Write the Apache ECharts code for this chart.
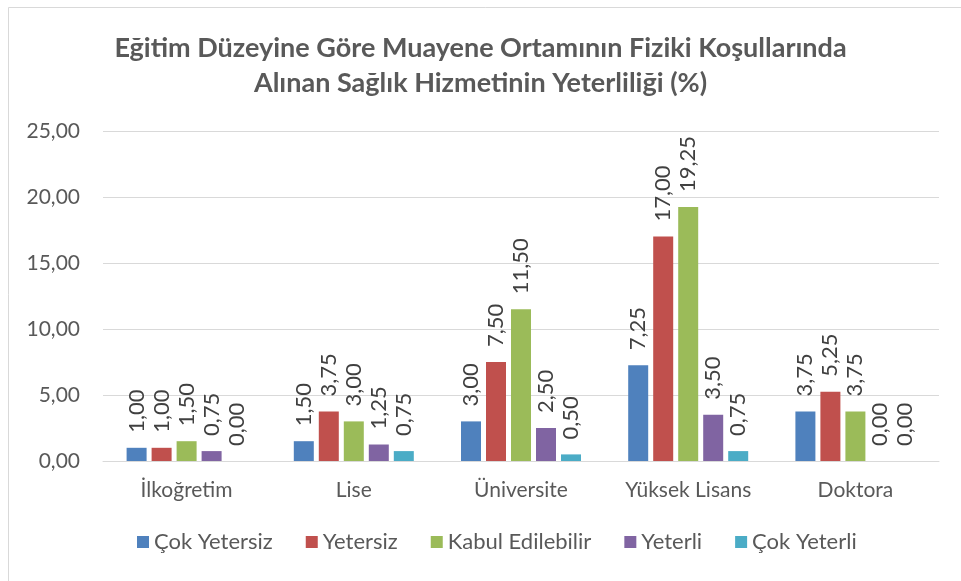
<!DOCTYPE html>
<html>
<head>
<meta charset="utf-8">
<script src="https://cdn.jsdelivr.net/npm/echarts@6/dist/echarts.min.js"></script>
<style>
  html, body { margin: 0; padding: 0; background: #fff; }
  #chart { width: 961px; height: 581px; }
</style>
</head>
<body>
<div id="chart"></div>
<script>
// Education levels on the category axis
const categories = ['İlkoğretim', 'Lise', 'Üniversite', 'Yüksek Lisans', 'Doktora'];

// Ratings (percent) per education level
const cokYetersiz     = [1.00, 1.50, 3.00, 7.25, 3.75];
const yetersiz        = [1.00, 3.75, 7.50, 17.00, 5.25];
const kabulEdilebilir = [1.50, 3.00, 11.50, 19.25, 3.75];
const yeterli         = [0.75, 1.25, 2.50, 3.50, 0.00];
const cokYeterli      = [0.00, 0.75, 0.50, 0.75, 0.00];

const seriesNames = ['Çok Yetersiz', 'Yetersiz', 'Kabul Edilebilir', 'Yeterli', 'Çok Yeterli'];
const seriesData = [cokYetersiz, yetersiz, kabulEdilebilir, yeterli, cokYeterli];
const colors = ['#4F81BD', '#C0504D', '#9BBB59', '#8064A2', '#4BACC6'];

const yTicks = { min: 0, max: 25, interval: 5 };

const FONT = 'Lato, "Open Sans", sans-serif';
const fmt = v => Number(v).toFixed(2).replace('.', ',');

const chart = echarts.init(document.getElementById('chart'), null, { renderer: 'canvas' });

chart.setOption({
  animation: false,
  backgroundColor: '#fff',
  color: colors,
  title: {
    text: 'Eğitim Düzeyine Göre Muayene Ortamının Fiziki Koşullarında\nAlınan Sağlık Hizmetinin Yeterliliği (%)',
    left: 'center',
    top: 26,
    textStyle: {
      fontFamily: FONT,
      fontSize: 27,
      fontWeight: 'bold',
      color: '#595959',
      lineHeight: 35
    }
  },
  legend: {
    bottom: 23,
    left: 132,
    itemWidth: 12,
    itemHeight: 12,
    itemGap: 33,
    icon: 'rect',
    textStyle: { fontFamily: FONT, fontSize: 22, color: '#595959' },
    data: seriesNames
  },
  grid: { left: 103, right: 22, top: 131, bottom: 120, containLabel: false },
  xAxis: {
    type: 'category',
    data: categories,
    axisLine: { show: true, lineStyle: { color: '#D9D9D9', width: 1 } },
    axisTick: { show: false },
    axisLabel: { fontFamily: FONT, fontSize: 21, color: '#595959', margin: 19 }
  },
  yAxis: {
    type: 'value',
    min: yTicks.min,
    max: yTicks.max,
    interval: yTicks.interval,
    axisLine: { show: false },
    axisTick: { show: false },
    splitLine: { lineStyle: { color: '#D9D9D9', width: 1 } },
    axisLabel: { fontFamily: FONT, fontSize: 21, color: '#595959', margin: 23, formatter: fmt }
  },
  series: seriesNames.map((name, i) => ({
    name: name,
    type: 'bar',
    data: seriesData[i],
    barWidth: 20,
    barGap: '25%',
    itemStyle: { color: colors[i] },
    label: {
      show: true,
      position: 'top',
      rotate: 90,
      align: 'left',
      verticalAlign: 'middle',
      distance: 15,
      fontFamily: FONT,
      fontSize: 22,
      color: '#404040',
      formatter: p => fmt(p.value)
    }
  })),
  graphic: [{
    type: 'rect',
    shape: { x: 8.5, y: 7.5, width: 970, height: 600 },
    style: { fill: 'none', stroke: '#D9D9D9', lineWidth: 1 },
    silent: true
  }]
});
</script>
</body>
</html>
